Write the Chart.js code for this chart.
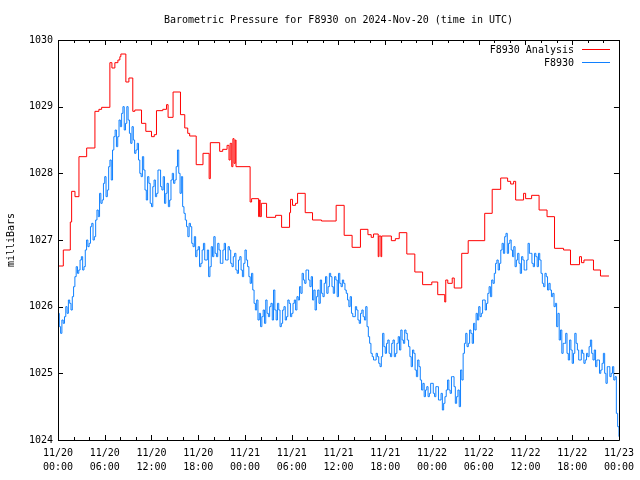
<!DOCTYPE html>
<html>
<head>
<meta charset="utf-8">
<script src="https://cdn.jsdelivr.net/npm/chart.js@4/dist/chart.umd.min.js"></script>
<style>
html,body{margin:0;padding:0;background:#fff;}
#wrap{width:640px;height:480px;position:relative;}
</style>
</head>
<body>
<div id="wrap"><canvas id="c" width="640" height="480"></canvas></div>
<script>
// ---- Data (hours since 2024-11-20 00:00 UTC, pressure in mb) ----
const titleText = "Barometric Pressure for F8930 on 2024-Nov-20 (time in UTC)";
const yAxisTitle = "milliBars";
const seriesNames = ["F8930 Analysis", "F8930"];
const xTickDates = ["11/20","11/20","11/20","11/20","11/21","11/21","11/21","11/21","11/22","11/22","11/22","11/22","11/23"];
const xTickTimes = ["00:00","06:00","12:00","18:00","00:00","06:00","12:00","18:00","00:00","06:00","12:00","18:00","00:00"];
const yTicks = [1024,1025,1026,1027,1028,1029,1030];

// Analysis series: hour at which each level begins, and the level
const analysisHours = [0.13,0.68,1.58,1.75,2.18,2.69,3.68,4.74,5.25,5.6,6.66,6.92,7.3,7.69,7.94,8.07,8.71,9.1,9.6,9.86,10.72,11.27,12.0,12.36,12.64,13.45,13.93,14.13,14.77,15.72,16.27,16.65,16.9,17.74,18.61,19.4,19.55,20.75,21.14,21.7,21.95,22.1,22.3,22.45,22.6,22.75,22.85,24.66,24.85,25.75,25.85,25.95,26.1,26.2,26.77,27.93,28.7,29.72,29.85,30.1,30.49,30.75,31.73,32.67,33.82,35.7,36.73,37.75,38.82,39.78,40.2,40.5,41.1,41.2,41.45,41.55,42.79,43.3,43.8,44.77,45.8,46.8,47.98,48.74,49.64,49.77,50.03,50.6,50.86,51.82,52.65,54.77,55.73,56.82,57.71,58.1,58.48,58.74,59.76,60.02,60.79,61.75,62.77,63.73,64.89,65.78,66.94,67.19,67.51,68.73,69.63,70.72];
const analysisValues = [1026.61,1026.85,1027.27,1027.73,1027.65,1028.25,1028.38,1028.93,1028.96,1028.99,1029.66,1029.58,1029.66,1029.70,1029.75,1029.79,1029.37,1029.43,1028.93,1028.95,1028.75,1028.63,1028.55,1028.58,1028.94,1028.96,1029.03,1028.84,1029.22,1028.88,1028.68,1028.60,1028.56,1028.13,1028.30,1027.92,1028.46,1028.33,1028.36,1028.42,1028.20,1028.45,1028.10,1028.52,1028.15,1028.50,1028.10,1027.57,1027.62,1027.35,1027.60,1027.35,1027.55,1027.55,1027.34,1027.37,1027.19,1027.41,1027.61,1027.52,1027.55,1027.70,1027.41,1027.30,1027.285,1027.52,1027.07,1026.89,1027.16,1027.08,1027.04,1027.09,1026.75,1027.06,1026.75,1027.06,1026.99,1027.02,1027.11,1026.79,1026.52,1026.33,1026.37,1026.18,1026.07,1026.40,1026.35,1026.43,1026.28,1026.80,1026.99,1027.40,1027.76,1027.93,1027.88,1027.84,1027.88,1027.60,1027.70,1027.62,1027.67,1027.45,1027.35,1026.875,1026.85,1026.63,1026.75,1026.66,1026.70,1026.55,1026.46,1026.46];

// Observed series: one reading every 10 minutes from 00:00 (one row per hour)
const observedStepHours = 1/6;
const observedValues = [
1025.9,1025.7,1025.6,1025.8,1025.75,1025.85,
1026.0,1025.9,1026.1,1026.05,1025.95,1026.15,
1026.3,1026.45,1026.6,1026.5,1026.55,1026.7,
1026.75,1026.55,1026.6,1026.85,1027.0,1026.9,
1026.95,1027.2,1027.25,1027.0,1027.05,1027.3,
1027.45,1027.35,1027.7,1027.55,1027.6,1027.85,
1027.95,1027.65,1027.75,1028.1,1028.2,1027.9,
1028.35,1028.55,1028.65,1028.4,1028.55,1028.8,
1028.7,1028.9,1029.0,1028.65,1028.75,1029.0,
1028.8,1028.6,1028.45,1028.7,1028.5,1028.3,
1028.35,1028.45,1028.2,1028.0,1027.95,1028.25,
1028.05,1027.75,1027.6,1027.95,1027.85,1027.55,
1027.5,1027.8,1027.9,1027.65,1027.7,1028.05,
1028.05,1027.8,1027.75,1027.95,1027.55,1027.7,
1027.85,1027.5,1027.6,1027.9,1028.0,1027.85,
1027.9,1028.1,1028.35,1028.0,1027.7,1027.95,
1027.5,1027.4,1027.3,1027.2,1027.05,1027.25,
1027.2,1026.95,1026.9,1027.05,1026.75,1026.85,
1026.9,1026.6,1026.65,1026.85,1026.95,1026.7,
1026.7,1026.85,1026.45,1026.6,1026.9,1026.75,
1027.05,1026.8,1026.75,1026.95,1026.85,1026.65,
1026.65,1026.85,1026.95,1026.7,1026.7,1026.9,
1026.85,1026.65,1026.6,1026.75,1026.8,1026.55,
1026.5,1026.7,1026.75,1026.55,1026.45,1026.65,
1026.85,1026.7,1026.6,1026.45,1026.35,1026.5,
1026.25,1026.05,1025.95,1026.1,1025.8,1025.9,
1025.7,1025.85,1025.95,1025.75,1026.1,1025.9,
1025.85,1026.0,1026.05,1025.8,1026.25,1025.95,
1025.8,1026.05,1025.95,1025.7,1025.75,1025.95,
1026.0,1025.8,1025.85,1026.1,1026.05,1025.85,
1025.9,1026.05,1026.1,1025.95,1026.15,1026.1,
1026.3,1026.2,1026.5,1026.4,1026.35,1026.55,
1026.55,1026.4,1026.3,1026.45,1026.1,1026.25,
1025.95,1026.15,1026.25,1026.05,1026.4,1026.2,
1026.15,1026.35,1026.45,1026.2,1026.3,1026.5,
1026.45,1026.3,1026.2,1026.45,1026.4,1026.15,
1026.5,1026.35,1026.3,1026.4,1026.35,1026.25,
1026.2,1026.1,1026.0,1026.15,1025.9,1025.85,
1025.85,1026.0,1025.95,1025.8,1025.75,1025.9,
1025.95,1025.85,1025.8,1026.0,1025.7,1025.55,
1025.45,1025.3,1025.25,1025.2,1025.2,1025.3,
1025.25,1025.15,1025.1,1025.25,1025.6,1025.4,
1025.3,1025.45,1025.5,1025.3,1025.25,1025.45,
1025.5,1025.25,1025.3,1025.45,1025.55,1025.35,
1025.65,1025.5,1025.45,1025.65,1025.6,1025.5,
1025.4,1025.25,1025.1,1025.35,1025.3,1025.05,
1024.95,1025.2,1025.1,1024.9,1024.75,1024.85,
1024.65,1024.75,1024.8,1024.65,1024.7,1024.85,
1024.85,1024.7,1024.65,1024.8,1024.8,1024.6,
1024.6,1024.7,1024.45,1024.55,1024.65,1024.75,
1024.9,1024.75,1024.7,1024.95,1024.95,1024.8,
1024.55,1024.65,1024.75,1024.5,1025.05,1024.9,
1025.3,1025.45,1025.6,1025.4,1025.45,1025.65,
1025.6,1025.45,1025.75,1025.65,1025.9,1025.8,
1026.0,1025.85,1025.9,1026.1,1026.1,1025.95,
1026.05,1026.2,1026.3,1026.15,1026.4,1026.35,
1026.5,1026.65,1026.7,1026.55,1026.65,1026.85,
1026.95,1026.8,1027.05,1027.1,1026.8,1026.95,
1027.0,1026.85,1026.75,1026.9,1026.6,1026.7,
1026.8,1026.65,1026.5,1026.75,1026.7,1026.55,
1026.55,1026.7,1026.95,1026.8,1026.8,1026.65,
1026.6,1026.8,1026.75,1026.6,1026.8,1026.7,
1026.5,1026.35,1026.3,1026.5,1026.45,1026.25,
1026.35,1026.25,1026.15,1026.2,1026.0,1026.05,
1025.7,1025.9,1025.5,1025.65,1025.3,1025.45,
1025.45,1025.6,1025.3,1025.2,1025.5,1025.35,
1025.15,1025.3,1025.6,1025.45,1025.35,1025.2,
1025.2,1025.35,1025.3,1025.15,1025.2,1025.3,
1025.25,1025.4,1025.5,1025.3,1025.2,1025.35,
1025.1,1025.2,1025.2,1025.0,1025.05,1025.15,
1025.3,1025.0,1024.85,1025.1,1025.1,1024.95,
1025.0,1025.1,1024.9,1024.95,1024.4,1024.2,
1024.05];

const colors = ["#ff0000", "#1080ff"];
const FONT = "DejaVu Sans Mono";

const analysisData = analysisHours.map((h, i) => ({x: h, y: analysisValues[i]}));
const observedData = observedValues.map((v, i) => ({x: i * observedStepHours, y: v}));

const decor = {
  id: 'decor',
  afterDraw(chart) {
    const ctx = chart.ctx, a = chart.chartArea;
    const xs = chart.scales.x, ys = chart.scales.y;
    ctx.save();
    ctx.strokeStyle = '#000';
    ctx.lineWidth = 1;
    ctx.beginPath();
    ctx.rect(Math.round(a.left) + 0.5, Math.round(a.top) + 0.5, Math.round(a.right - a.left), Math.round(a.bottom - a.top));
    yTicks.forEach(v => {
      const y = Math.round(ys.getPixelForValue(v)) + 0.5;
      ctx.moveTo(a.left, y); ctx.lineTo(a.left + 5, y);
      ctx.moveTo(a.right, y); ctx.lineTo(a.right - 5, y);
    });
    for (let h = 0; h <= 72; h += 2) {
      const x = Math.round(xs.getPixelForValue(h)) + 0.5;
      const len = (h % 6 === 0) ? 5 : 3;
      ctx.moveTo(x, a.bottom); ctx.lineTo(x, a.bottom - len);
      ctx.moveTo(x, a.top); ctx.lineTo(x, a.top + len);
    }
    ctx.stroke();
    ctx.fillStyle = '#000';
    ctx.font = '10px "' + FONT + '"';
    ctx.textAlign = 'center';
    ctx.textBaseline = 'middle';
    ctx.fillText(titleText, (a.left + a.right) / 2, 20);
    ctx.save();
    ctx.translate(11, 240);
    ctx.rotate(-Math.PI / 2);
    ctx.fillText(yAxisTitle, 0, 0);
    ctx.restore();
    ctx.textAlign = 'right';
    const legY = [50, 63];
    seriesNames.forEach((n, i) => {
      ctx.fillStyle = '#000';
      ctx.fillText(n, 574, legY[i]);
      ctx.strokeStyle = colors[i];
      ctx.beginPath();
      ctx.moveTo(582, legY[i] - 0.5);
      ctx.lineTo(610, legY[i] - 0.5);
      ctx.stroke();
    });
    ctx.restore();
  }
};

new Chart(document.getElementById('c'), {
  type: 'line',
  data: {
    datasets: [
      {label: seriesNames[0], data: analysisData, borderColor: colors[0], borderWidth: 1, pointRadius: 0, stepped: true, fill: false, order: 2},
      {label: seriesNames[1], data: observedData, borderColor: colors[1], borderWidth: 1, pointRadius: 0, stepped: true, fill: false, order: 1}
    ]
  },
  options: {
    responsive: false,
    animation: false,
    layout: {padding: {top: 40, right: 20, bottom: 0, left: 0}},
    plugins: {legend: {display: false}, title: {display: false}, tooltip: {enabled: false}},
    scales: {
      x: {
        type: 'linear', min: 0, max: 72,
        grid: {display: false, drawTicks: false},
        border: {display: false},
        afterFit(s) { s.height = 40; },
        afterBuildTicks(s) { s.ticks = xTickDates.map((d, i) => ({value: i * 6})); },
        ticks: {
          autoSkip: false, maxRotation: 0, padding: 6, color: '#000',
          font: {family: FONT, size: 10, lineHeight: 1.4},
          callback(v, i) { return [xTickDates[i], xTickTimes[i]]; }
        }
      },
      y: {
        type: 'linear', min: 1024, max: 1030,
        grid: {display: false, drawTicks: false},
        border: {display: false},
        afterFit(s) { s.width = 58; },
        afterBuildTicks(s) { s.ticks = yTicks.map(v => ({value: v})); },
        ticks: {padding: 5, color: '#000', font: {family: FONT, size: 10}, callback(v) { return String(v); }}
      }
    }
  },
  plugins: [decor]
});
</script>
</body>
</html>
